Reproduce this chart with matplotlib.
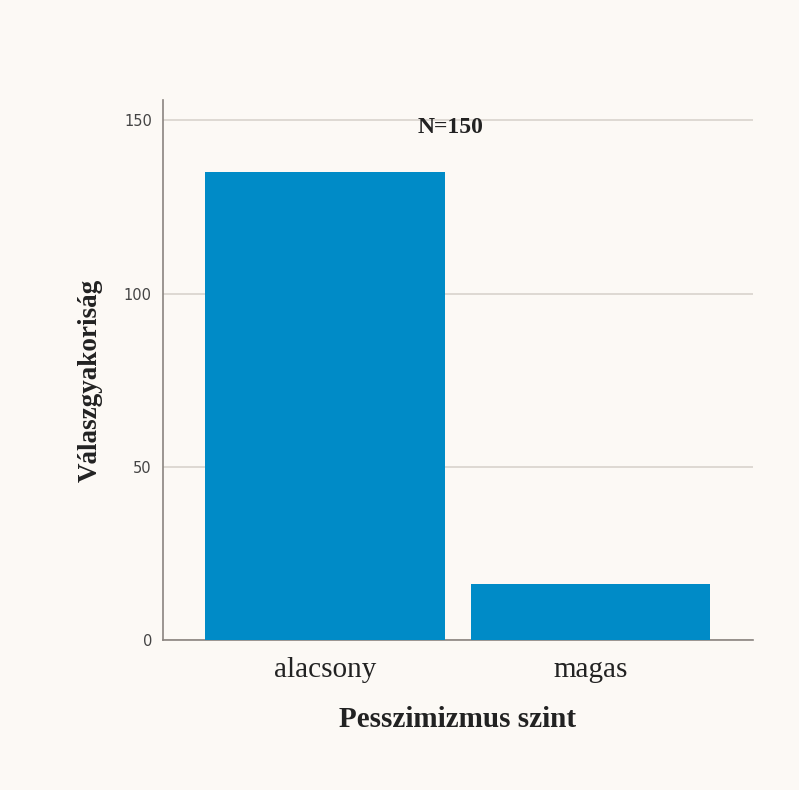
import matplotlib.pyplot as plt

categories = ['alacsony', 'magas']
counts = [135, 16]
yticks = [0, 50, 100, 150]

bg = '#fcf9f5'
fig = plt.figure(figsize=(7.99, 7.90), dpi=100, facecolor=bg)
ax = fig.add_axes([0.204, 0.190, 0.738, 0.684], facecolor=bg)

x = range(len(categories))
ax.bar(x, counts, width=0.9, color='#008bc7', zorder=3)

ax.set_xlim(-0.61, 1.61)
ax.set_ylim(0, 156)
ax.set_yticks(yticks)
ax.yaxis.grid(True, color='#d9d3cd', linewidth=1.2, zorder=0)
ax.set_xticks(list(x))
ax.set_xticklabels(categories, family='Liberation Serif', fontsize=21, color='#222222')
ax.tick_params(axis='y', length=0, labelsize=10.5, labelcolor='#444444', pad=8)
ax.tick_params(axis='x', length=0, pad=12)

for side in ['top', 'right']:
    ax.spines[side].set_visible(False)
for side in ['left', 'bottom']:
    ax.spines[side].set_color('#8a8480')
    ax.spines[side].set_linewidth(1.2)

ax.set_xlabel('Pesszimizmus szint', family='Liberation Serif', fontsize=21,
              fontweight='bold', color='#222222')
ax.set_ylabel('Válaszgyakoriság', family='Liberation Serif', fontsize=19.5,
              fontweight='bold', color='#222222')
ax.xaxis.set_label_coords(0.5, -0.148)
ax.yaxis.set_label_coords(-0.123, 0.48)
ax.xaxis.label.set_va('center')
ax.yaxis.label.set_va('center')

ax.text(0.488, 148, 'N=150', transform=ax.get_yaxis_transform(),
        family='Liberation Serif', fontsize=17, fontweight='bold',
        color='#222222', ha='center', va='center', zorder=4)

fig.savefig('out.png', dpi=100, facecolor=bg)
